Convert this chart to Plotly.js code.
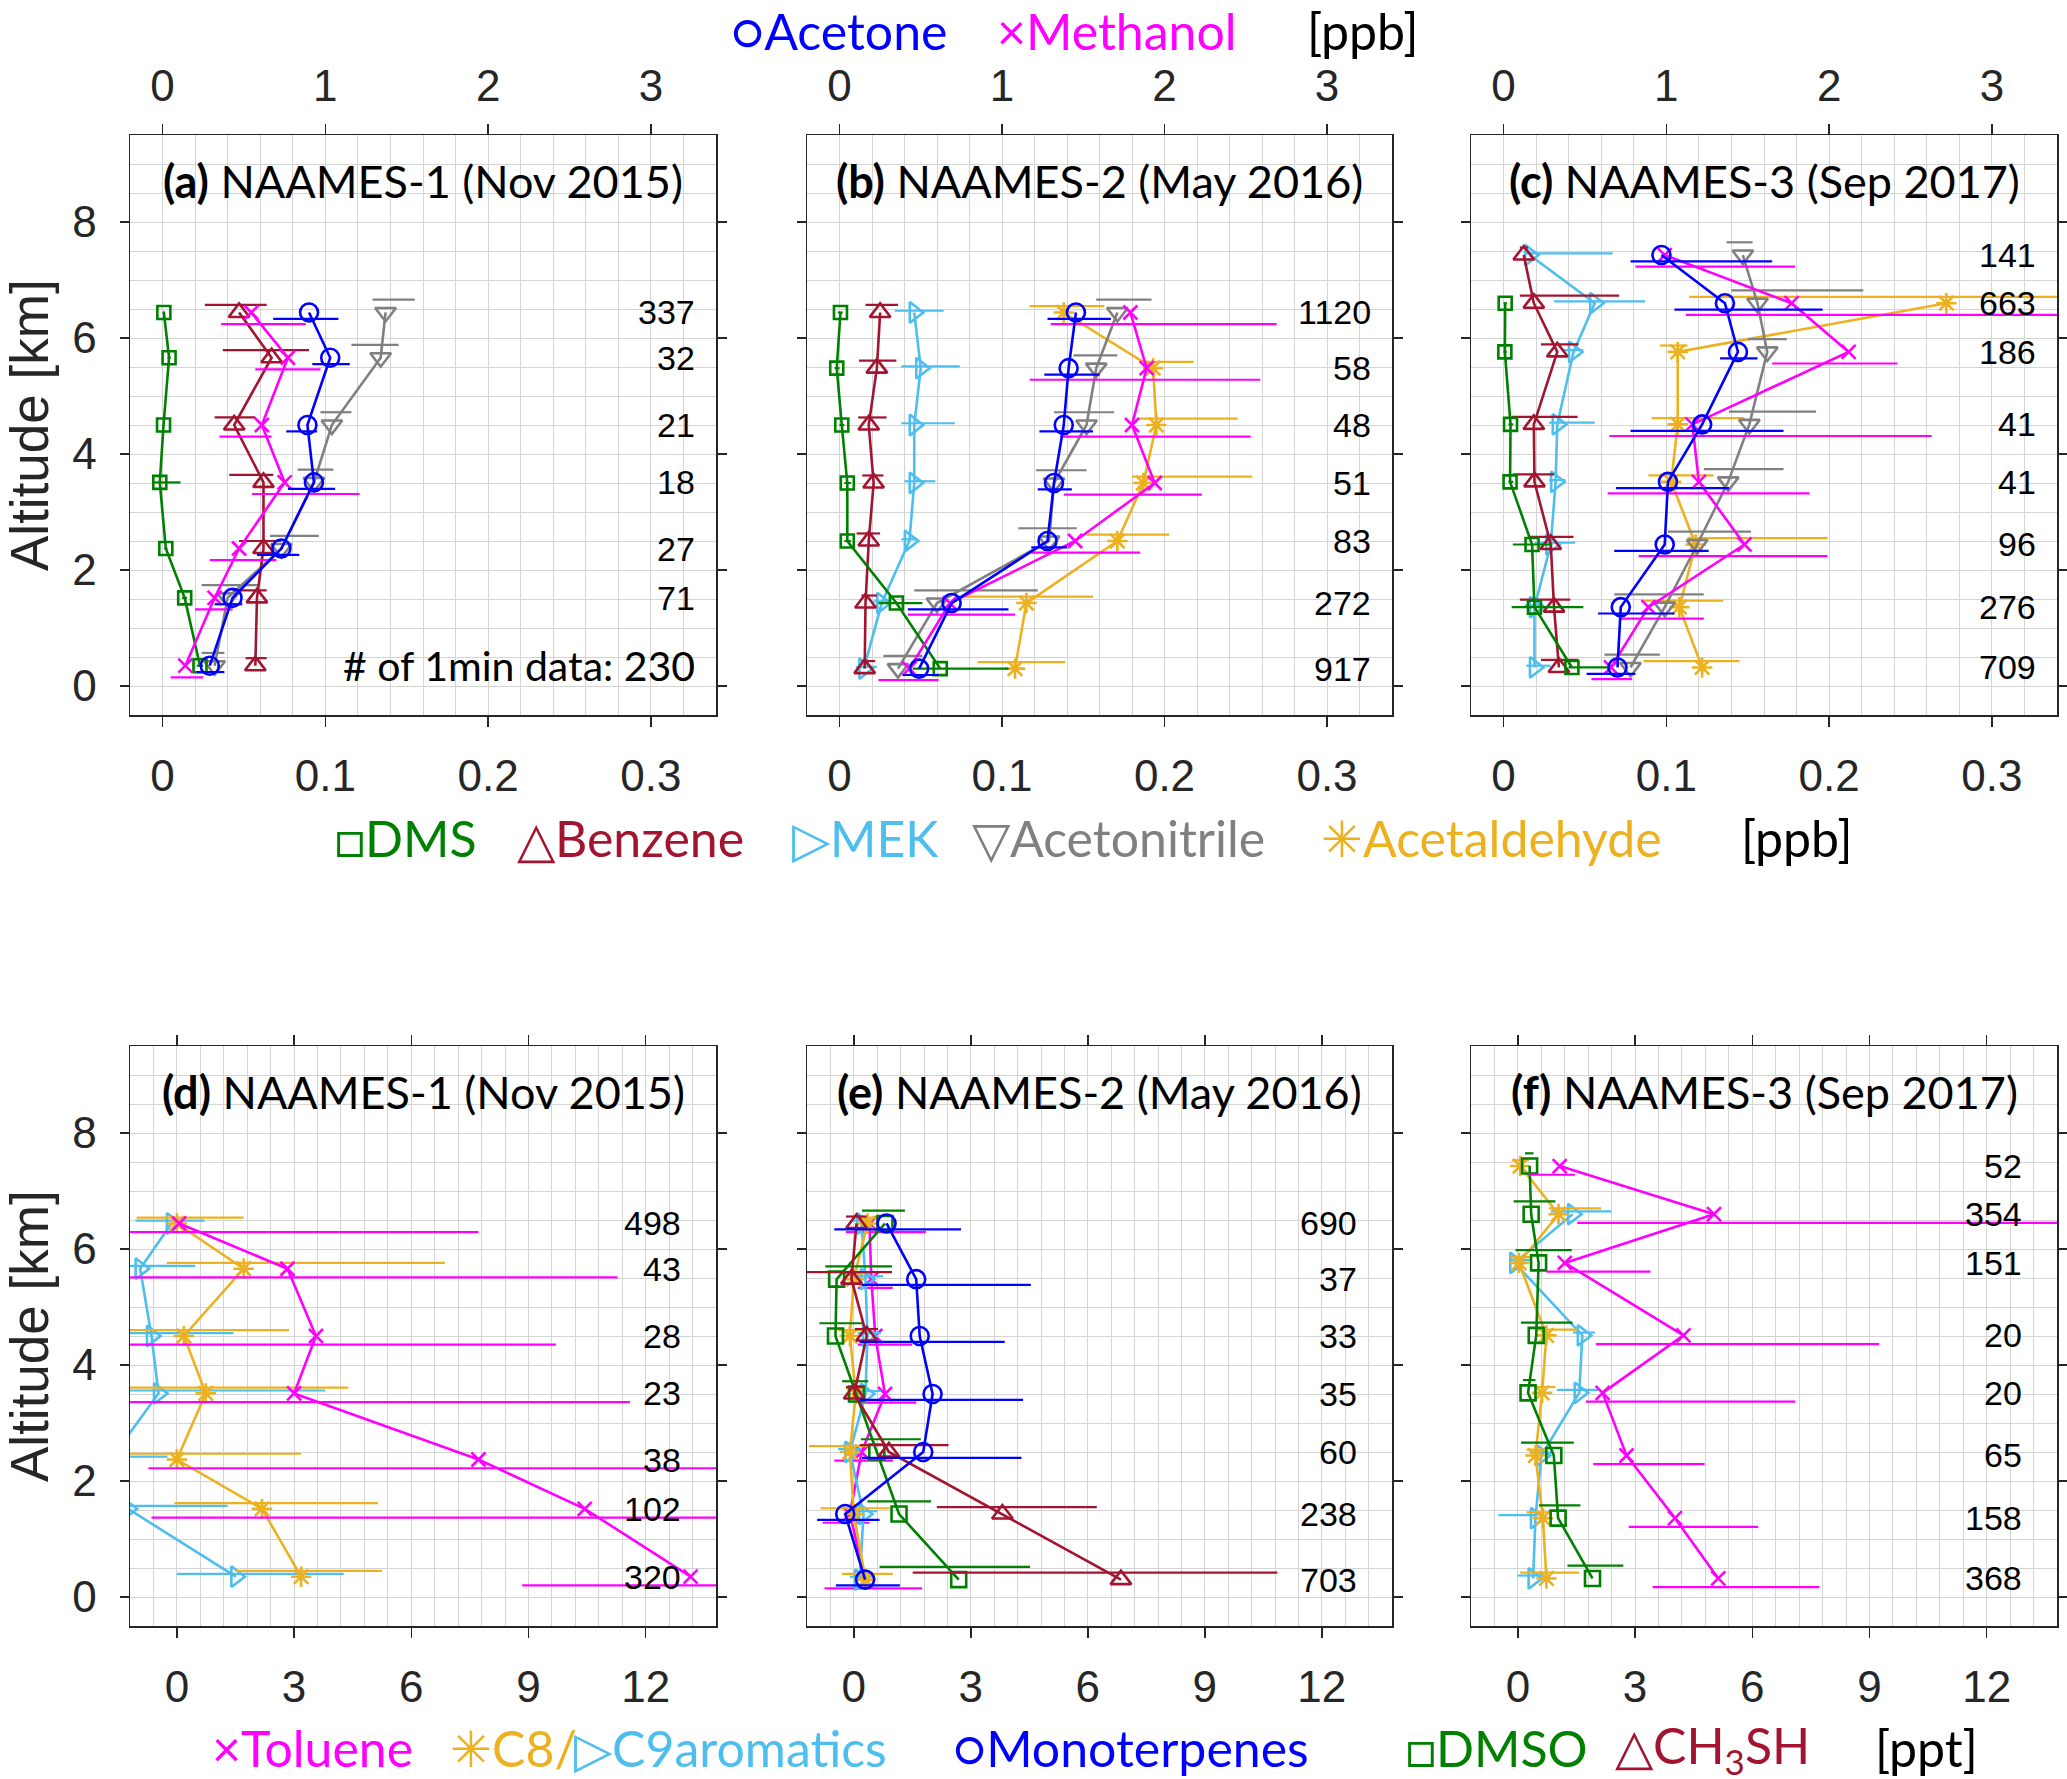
<!DOCTYPE html>
<html>
<head>
<meta charset="utf-8">
<script src="https://cdn.plot.ly/plotly-3.0.1.min.js"></script>
<style>
body{margin:0;background:#fff}
#plot{width:2067px;height:1779px}
</style>
</head>
<body>
<div id="plot"></div>
<script>
// altitude bins [km], bottom to top, for each campaign
const alt1 = [0.35, 1.52, 2.37, 3.51, 4.5, 5.66, 6.44]
const alt2 = [0.3, 1.43, 2.5, 3.5, 4.5, 5.48, 6.44]
const alt3 = [0.32, 1.36, 2.44, 3.52, 4.51, 5.76, 6.6, 7.43]

// number of 1 min data points per bin
const count1 = [230, 71, 27, 18, 21, 32, 337]
const count2 = [917, 272, 83, 51, 48, 58, 1120]
const count3 = [709, 276, 96, 41, 41, 186, 663, 141]
const count1ppt = [320, 102, 38, 23, 28, 43, 498]
const count2ppt = [703, 238, 60, 35, 33, 37, 690]
const count3ppt = [368, 158, 65, 20, 20, 151, 354, 52]

// ---- ppb species (median, low, high) ----
const acetone1 = [0.29, 0.43, 0.73, 0.93, 0.89, 1.03, 0.90]
const acetone1Lo = [0.21, 0.32, 0.58, 0.77, 0.76, 0.92, 0.68]
const acetone1Hi = [0.38, 0.49, 0.84, 1.06, 0.95, 1.15, 1.08]
const acetone2 = [0.49, 0.69, 1.28, 1.32, 1.38, 1.41, 1.455]
const acetone2Lo = [0.39, 0.42, 1.18, 1.22, 1.23, 1.26, 1.28]
const acetone2Hi = [0.61, 1.04, 1.40, 1.43, 1.56, 1.60, 1.67]
const acetone3 = [0.70, 0.72, 0.99, 1.01, 1.22, 1.44, 1.36, 0.97]
const acetone3Lo = [0.51, 0.58, 0.68, 0.69, 0.78, 1.33, 1.05, 0.78]
const acetone3Hi = [0.81, 1.05, 1.26, 1.385, 1.72, 1.56, 1.96, 1.65]

const methanol1 = [0.14, 0.32, 0.47, 0.75, 0.61, 0.77, 0.545]
const methanol1Lo = [0.05, 0.20, 0.29, 0.55, 0.35, 0.57, 0.36]
const methanol1Hi = [0.25, 0.43, 0.70, 1.21, 0.67, 0.97, 0.88]
const methanol2 = [0.43, 0.68, 1.45, 1.94, 1.80, 1.89, 1.79]
const methanol2Lo = [0.24, 0.42, 1.18, 1.38, 1.36, 1.17, 1.30]
const methanol2Hi = [0.61, 1.08, 1.85, 2.23, 2.53, 2.59, 2.69]
const methanol3 = [0.66, 0.89, 1.48, 1.20, 1.16, 2.12, 1.77, 0.99]
const methanol3Lo = [0.54, 0.71, 0.83, 0.64, 0.65, 1.65, 1.12, 0.81]
const methanol3Hi = [0.79, 1.23, 1.99, 1.88, 2.63, 2.42, 3.6, 1.79]

const dms1 = [0.023, 0.0136, 0.002, -0.0017, 0.0006, 0.004, 0.0008]
const dms1Lo = [0.021, 0.012, 0.001, -0.006, 0.0, 0.003, 0.0]
const dms1Hi = [0.025, 0.015, 0.003, 0.011, 0.001, 0.005, 0.0015]
const dms2 = [0.062, 0.035, 0.0048, 0.0048, 0.0014, -0.0017, 0.0006]
const dms2Lo = [0.045, 0.024, 0.003, 0.003, 0.0, -0.003, -0.001]
const dms2Hi = [0.104, 0.051, 0.007, 0.007, 0.003, 0.0, 0.002]
const dms3 = [0.042, 0.019, 0.0175, 0.004, 0.0043, 0.0008, 0.001, null]
const dms3Lo = [0.040, 0.005, 0.0057, 0.003, 0.003, 0.0, 0.0, null]
const dms3Hi = [0.064, 0.049, 0.030, 0.006, 0.006, 0.002, 0.002, null]

const benzene1 = [0.057, 0.058, 0.062, 0.062, 0.044, 0.067, 0.047]
const benzene1Lo = [0.051, 0.043, 0.047, 0.041, 0.032, 0.037, 0.026]
const benzene1Hi = [0.064, 0.064, 0.073, 0.068, 0.057, 0.090, 0.064]
const benzene2 = [0.0155, 0.016, 0.018, 0.021, 0.018, 0.023, 0.025]
const benzene2Lo = [0.0135, 0.0135, 0.0105, 0.014, 0.0115, 0.012, 0.016]
const benzene2Hi = [0.022, 0.023, 0.025, 0.027, 0.029, 0.035, 0.036]
const benzene3 = [0.034, 0.031, 0.029, 0.019, 0.0186, 0.033, 0.0186, 0.0124]
const benzene3Lo = [0.023, 0.010, 0.016, 0.0057, 0.005, 0.023, 0.010, 0.010]
const benzene3Hi = [0.046, 0.041, 0.043, 0.031, 0.0455, 0.046, 0.071, 0.015]

const mek2 = [0.015, 0.026, 0.043, 0.046, 0.046, 0.050, 0.046]
const mek2Lo = [0.010, 0.021, 0.038, 0.040, 0.038, 0.038, 0.034]
const mek2Hi = [0.023, 0.032, 0.048, 0.059, 0.071, 0.074, 0.064]
const mek3 = [0.019, 0.019, 0.029, 0.032, 0.033, 0.043, 0.056, 0.016]
const mek3Lo = [0.014, 0.013, 0.019, 0.028, 0.028, 0.037, 0.031, 0.013]
const mek3Hi = [0.029, 0.025, 0.044, 0.038, 0.056, 0.049, 0.087, 0.067]

const acn1 = [0.032, 0.040, 0.073, 0.093, 0.104, 0.134, 0.137]
const acn1Lo = [0.024, 0.024, 0.066, 0.083, 0.097, 0.116, 0.129]
const acn1Hi = [0.038, 0.059, 0.096, 0.105, 0.116, 0.145, 0.155]
const acn2 = [0.036, 0.060, 0.129, 0.132, 0.152, 0.158, 0.171]
const acn2Lo = [0.027, 0.046, 0.110, 0.121, 0.132, 0.144, 0.158]
const acn2Hi = [0.051, 0.122, 0.146, 0.152, 0.169, 0.171, 0.192]
const acn3 = [0.078, 0.099, 0.119, 0.138, 0.151, 0.162, 0.156, 0.147]
const acn3Lo = [0.062, 0.068, 0.101, 0.123, 0.1385, 0.150, 0.140, 0.137]
const acn3Hi = [0.096, 0.123, 0.152, 0.172, 0.192, 0.174, 0.221, 0.153]

const acetald2 = [0.108, 0.115, 0.171, 0.187, 0.195, 0.193, 0.138]
const acetald2Lo = [0.085, 0.073, 0.152, 0.180, 0.183, 0.185, 0.117]
const acetald2Hi = [0.139, 0.156, 0.203, 0.254, 0.245, 0.218, 0.163]
const acetald3 = [0.122, 0.108, 0.118, 0.103, 0.107, 0.107, 0.272, null]
const acetald3Lo = [0.086, 0.085, 0.113, 0.089, 0.091, 0.096, 0.114, null]
const acetald3Hi = [0.145, 0.135, 0.199, 0.129, 0.148, 0.113, 0.36, null]

// ---- ppt species ----
const toluene1 = [13.15, 10.44, 7.72, 3.0, 3.56, 2.83, 0.06]
const toluene1Lo = [8.84, -0.65, -0.73, -2.5, -2.5, -2.5, -2.5]
const toluene1Hi = [15, 15, 15, 11.6, 9.7, 11.28, 7.72]
const toluene2 = [0.3, -0.1, 0.2, 0.8, 0.55, 0.45, 0.4]
const toluene2Lo = [-0.75, -0.8, -0.5, 0.2, 0.1, 0.1, -0.2]
const toluene2Hi = [1.75, 0.4, 1.0, 1.6, 1.5, 1.0, 1.85]
const toluene3 = [5.13, 4.02, 2.78, 2.17, 4.24, 1.2, 5.02, 1.07]
const toluene3Lo = [3.45, 2.84, 1.93, 1.74, 2.0, 0.73, 1.52, 0.28]
const toluene3Hi = [7.72, 6.15, 4.78, 7.1, 9.25, 3.39, 16, 1.46]

const c8a1 = [3.18, 2.18, 0.0, 0.74, 0.18, 1.71, 0.0]
const c8a1Lo = [1.51, -0.06, -1.5, -1.5, -1.5, -0.26, -1.03]
const c8a1Hi = [5.25, 5.15, 3.18, 4.39, 2.87, 6.86, 1.71]
const c8a2 = [0.3, 0.0, -0.1, 0.05, -0.1, 0.0, 0.35]
const c8a2Lo = [-0.3, -0.85, -1.15, -0.2, -0.4, -0.3, 0.1]
const c8a2Hi = [1.0, 0.92, 0.39, 0.3, 0.4, 0.3, 0.6]
const c8a3 = [0.73, 0.64, 0.45, 0.62, 0.73, 0.03, 1.04, 0.06]
const c8a3Lo = [0.06, 0.22, 0.22, 0.45, 0.45, -0.19, 0.79, -0.15]
const c8a3Hi = [1.57, 0.84, 0.73, 0.96, 1.52, 0.34, 2.13, 0.28]

const c9a1 = [1.51, -1.25, -1.7, -0.47, -0.65, -0.94, -0.14]
const c9a1Lo = [0.0, -2, -2.5, -2, -2, -2, -1.06]
const c9a1Hi = [4.27, 1.3, -0.24, 3.8, 1.45, 0.47, 0.71]
const c9a2 = [0.15, 0.25, -0.1, 0.3, 0.35, 0.3, 0.2]
const c9a2Lo = [-0.1, 0.0, -0.4, 0.0, 0.1, 0.0, 0.0]
const c9a2Hi = [0.5, 0.6, 0.2, 0.7, 0.7, 0.75, 0.45]
const c9a3 = [0.39, 0.45, 0.6, 1.57, 1.65, -0.08, 1.4, null]
const c9a3Lo = [0.0, -0.5, 0.3, 1.0, 1.41, -0.22, 0.84, null]
const c9a3Hi = [0.73, 0.5, 0.9, 2.07, 1.97, 0.34, 2.39, null]

const monoterp2 = [0.29, -0.22, 1.78, 2.02, 1.69, 1.6, 0.84]
const monoterp2Lo = [-0.46, -0.94, 0.21, 0.15, 0.15, 0.21, -0.5]
const monoterp2Hi = [1.18, 0.66, 4.3, 4.34, 3.87, 4.54, 2.75]

const ch3sh2 = [6.85, 3.81, 0.9, 0.01, 0.33, -0.06, 0.07]
const ch3sh2Lo = [1.51, 2.13, 0.15, -0.2, 0.03, -1.3, -0.2]
const ch3sh2Hi = [10.86, 6.23, 2.43, 0.27, 0.62, 0.98, 0.33]

const dmso2 = [2.69, 1.16, 0.59, 0.07, -0.47, -0.44, 0.8]
const dmso2Lo = [0.66, 0.35, 0.18, -0.3, -0.88, -0.73, 0.21]
const dmso2Hi = [4.52, 1.98, 1.72, 0.37, 0.24, 0.98, 1.31]
const dmso3 = [1.91, 1.03, 0.92, 0.26, 0.47, 0.53, 0.34, 0.3]
const dmso3Lo = [1.27, 0.54, 0.08, 0.13, 0.08, -0.06, -0.11, 0.18]
const dmso3Hi = [2.7, 1.6, 1.43, 0.45, 1.40, 1.38, 0.96, 0.4]

const titles = ["(a)", "(b)", "(c)", "(d)", "(e)", "(f)"]
const campaigns = ["NAAMES-1 (Nov 2015)", "NAAMES-2 (May 2016)", "NAAMES-3 (Sep 2017)"]

// ---- styles ----
const BLUE = "#0000ff", MAG = "#ff00ff", GREEN = "#008000", RED = "#a2142f"
const LBLUE = "#4dbeee", GRAY = "#808080", ORANGE = "#edb120"
const INK = "#262626", GRID = "#d4d4d4"
const TEXTFONT = "Lato, 'Open Sans', sans-serif"
const NUMFONT = "'Liberation Sans', Arial, sans-serif"
const TICKSIZE = 44

const sty = {
    acetone: {color: BLUE, symbol: "circle-open", size: 18, off: -0.11, top: true},
    methanol: {color: MAG, symbol: "x-thin-open", size: 14, off: -0.2, top: true},
    dms: {color: GREEN, symbol: "square-open", size: 13, off: 0},
    benzene: {color: RED, symbol: "triangle-up-open", size: 18, off: 0.13},
    mek: {color: LBLUE, symbol: "triangle-right-open", size: 18, off: 0.03},
    acn: {color: GRAY, symbol: "triangle-down-open", size: 18, off: 0.22},
    acetald: {color: ORANGE, symbol: "asterisk-open", size: 17, off: 0.11},
    toluene: {color: MAG, symbol: "x-thin-open", size: 14, off: -0.15},
    c8: {color: ORANGE, symbol: "asterisk-open", size: 17, off: 0.1},
    c9: {color: LBLUE, symbol: "triangle-right-open", size: 18, off: 0.05},
    monoterp: {color: BLUE, symbol: "circle-open", size: 18, off: -0.1},
    dmso: {color: GREEN, symbol: "square-open", size: 15, off: 0.22},
    ch3sh: {color: RED, symbol: "triangle-up-open", size: 18, off: 0.12}
}

// panel contents: [style key, values, low, high], drawing order bottom to top
const panels = [
    {alt: alt1, counts: count1, series: [
        ["acn", acn1, acn1Lo, acn1Hi], ["benzene", benzene1, benzene1Lo, benzene1Hi],
        ["dms", dms1, dms1Lo, dms1Hi], ["methanol", methanol1, methanol1Lo, methanol1Hi],
        ["acetone", acetone1, acetone1Lo, acetone1Hi]]},
    {alt: alt2, counts: count2, series: [
        ["acetald", acetald2, acetald2Lo, acetald2Hi], ["acn", acn2, acn2Lo, acn2Hi],
        ["mek", mek2, mek2Lo, mek2Hi], ["benzene", benzene2, benzene2Lo, benzene2Hi],
        ["dms", dms2, dms2Lo, dms2Hi], ["methanol", methanol2, methanol2Lo, methanol2Hi],
        ["acetone", acetone2, acetone2Lo, acetone2Hi]]},
    {alt: alt3, counts: count3, series: [
        ["acetald", acetald3, acetald3Lo, acetald3Hi], ["acn", acn3, acn3Lo, acn3Hi],
        ["mek", mek3, mek3Lo, mek3Hi], ["benzene", benzene3, benzene3Lo, benzene3Hi],
        ["dms", dms3, dms3Lo, dms3Hi], ["methanol", methanol3, methanol3Lo, methanol3Hi],
        ["acetone", acetone3, acetone3Lo, acetone3Hi]]},
    {alt: alt1, counts: count1ppt, series: [
        ["c9", c9a1, c9a1Lo, c9a1Hi], ["c8", c8a1, c8a1Lo, c8a1Hi],
        ["toluene", toluene1, toluene1Lo, toluene1Hi]]},
    {alt: alt2, counts: count2ppt, series: [
        ["toluene", toluene2, toluene2Lo, toluene2Hi], ["c9", c9a2, c9a2Lo, c9a2Hi],
        ["c8", c8a2, c8a2Lo, c8a2Hi], ["dmso", dmso2, dmso2Lo, dmso2Hi],
        ["ch3sh", ch3sh2, ch3sh2Lo, ch3sh2Hi], ["monoterp", monoterp2, monoterp2Lo, monoterp2Hi]]},
    {alt: alt3, counts: count3ppt, series: [
        ["c9", c9a3, c9a3Lo, c9a3Hi], ["c8", c8a3, c8a3Lo, c8a3Hi],
        ["dmso", dmso3, dmso3Lo, dmso3Hi], ["toluene", toluene3, toluene3Lo, toluene3Hi]]}
]

// page geometry in pixels
const W = 2067, H = 1779
const colPx = [[130, 716], [807, 1392], [1471, 2057]]
const rowPx = [[135, 715], [1046, 1626]]

function xid(p){ return p == 0 ? "x" : "x" + (p + 1) }
function yid(p){ return p == 0 ? "y" : "y" + (p + 1) }
function xkey(p){ return p == 0 ? "xaxis" : "xaxis" + (p + 1) }
function ykey(p){ return p == 0 ? "yaxis" : "yaxis" + (p + 1) }

var data = []
var layout = {
    width: W, height: H,
    margin: {l: 0, r: 0, t: 0, b: 0},
    paper_bgcolor: "#fff", plot_bgcolor: "#fff",
    showlegend: false,
    annotations: []
}

for (let p = 0; p < 6; p++){
    let r = Math.floor(p / 3), c = p % 3
    let panel = panels[p]
    let xdom = [colPx[c][0] / W, colPx[c][1] / W]
    let ydom = [1 - rowPx[r][1] / H, 1 - rowPx[r][0] / H]

    let xa = {
        domain: xdom, anchor: yid(p),
        showline: true, linecolor: INK, linewidth: 1.5,
        ticks: "outside", ticklen: 10, tickwidth: 1.5, tickcolor: INK,
        tickfont: {family: NUMFONT, size: TICKSIZE, color: INK},
        ticklabelstandoff: 12,
        showgrid: true, gridcolor: GRID, gridwidth: 1,
        zeroline: false, tick0: 0
    }
    if (r == 0){
        xa.range = [-0.02, 0.34]
        xa.dtick = 0.1
        xa.minor = {dtick: 0.02, showgrid: true, gridcolor: GRID, gridwidth: 1, ticks: ""}
        xa.mirror = false
        // top axis for acetone / methanol
        layout["xaxis" + (7 + p)] = {
            overlaying: xid(p), anchor: yid(p), side: "top",
            range: [-0.2, 3.4], tick0: 0, dtick: 1,
            showline: true, linecolor: INK, linewidth: 1.5,
            ticks: "outside", ticklen: 10, tickwidth: 1.5, tickcolor: INK,
            tickfont: {family: NUMFONT, size: TICKSIZE, color: INK},
            ticklabelstandoff: 5,
            showgrid: false, zeroline: false
        }
    } else {
        xa.range = [-1.2, 13.8]
        xa.dtick = 3
        xa.minor = {dtick: 0.6, showgrid: true, gridcolor: GRID, gridwidth: 1, ticks: ""}
        xa.mirror = "ticks"
    }
    layout[xkey(p)] = xa

    layout[ykey(p)] = {
        domain: ydom, anchor: xid(p),
        range: [-0.5, 9.5], tick0: 0, dtick: 2,
        minor: {dtick: 0.5, showgrid: true, gridcolor: GRID, gridwidth: 1, ticks: ""},
        showgrid: true, gridcolor: GRID, gridwidth: 1, zeroline: false,
        showline: true, linecolor: INK, linewidth: 1.5, mirror: "ticks",
        ticks: "outside", ticklen: 9, tickwidth: 1.5, tickcolor: INK,
        showticklabels: c == 0,
        tickfont: {family: NUMFONT, size: TICKSIZE, color: INK},
        ticklabelstandoff: 14
    }

    for (let s of panel.series){
        let st = sty[s[0]]
        let vals = s[1], lo = s[2], hi = s[3]
        let xax = st.top ? "x" + (7 + p) : xid(p)
        data.push({
            x: vals,
            y: panel.alt.map(a => a + st.off),
            xaxis: xax, yaxis: yid(p),
            mode: "markers",
            marker: {color: "rgba(0,0,0,0)", size: 1},
            error_x: {
                type: "data", symmetric: false,
                array: vals.map((v, i) => v == null ? null : hi[i] - v),
                arrayminus: vals.map((v, i) => v == null ? null : v - lo[i]),
                color: st.color, thickness: 2.2, width: 0
            },
            hoverinfo: "skip"
        })
        data.push({
            x: vals, y: panel.alt,
            xaxis: xax, yaxis: yid(p),
            mode: "lines+markers",
            line: {color: st.color, width: 2.6},
            marker: {symbol: st.symbol, size: st.size, color: st.color,
                     line: {color: st.color, width: 2.6}},
            hoverinfo: "skip"
        })
    }

    // panel title
    layout.annotations.push({
        xref: xid(p) + " domain", yref: yid(p), x: 0.5, y: 8.7,
        text: "<b>" + titles[p] + "</b> " + campaigns[c],
        showarrow: false, xanchor: "center", yanchor: "middle",
        font: {family: TEXTFONT, size: 45, color: "#000"}
    })

    // number of data points per bin
    panel.counts.forEach((n, i) => {
        let txt = String(n)
        let fam = NUMFONT, size = 34
        if (p == 0 && i == 0){
            txt = "# of 1min data: " + n
            fam = TEXTFONT
            size = 41
        }
        layout.annotations.push({
            xref: xid(p) + " domain", yref: yid(p),
            x: r == 0 ? 0.967 : 0.944, y: panel.alt[i],
            text: txt, showarrow: false, xanchor: "right", yanchor: "middle",
            font: {family: fam, size: size, color: "#000"}
        })
    })
}

// y axis titles
for (let r = 0; r < 2; r++){
    layout.annotations.push({
        xref: "paper", yref: "paper", x: 29 / W, y: 1 - (rowPx[r][0] + rowPx[r][1]) / 2 / H,
        text: "Altitude [km]", textangle: -90, showarrow: false,
        xanchor: "center", yanchor: "middle",
        font: {family: NUMFONT, size: 53, color: INK}
    })
}

// colored text legends: [text, color, left px, center y px (top row: anchored at the page top)]
const legendItems = [
    ["\u25CBAcetone", BLUE, 730, 0], ["\u00D7Methanol", MAG, 996, 0], ["[ppb]", "#000", 1306, 0],
    ["\u25A1DMS", GREEN, 334, 838], ["\u25B3Benzene", RED, 516, 838], ["\u25B7MEK", LBLUE, 791, 838],
    ["\u25BDAcetonitrile", GRAY, 971, 838], ["\u2733Acetaldehyde", ORANGE, 1320, 838], ["[ppb]", "#000", 1740, 838],
    ["\u00D7Toluene", MAG, 211, 1748], ["\u2733C8/", ORANGE, 449, 1748], ["\u25B7C9aromatics", LBLUE, 573, 1748],
    ["\u25CBMonoterpenes", BLUE, 952, 1748], ["\u25A1DMSO", GREEN, 1405, 1748],
    ["\u25B3CH<sub>3</sub>SH", RED, 1614, 1748], ["[ppt]", "#000", 1874, 1748]
]
for (let it of legendItems){
    layout.annotations.push({
        xref: "paper", yref: "paper", x: it[2] / W, y: 1 - it[3] / H,
        text: it[0], showarrow: false, xanchor: "left",
        yanchor: it[3] == 0 ? "top" : "middle", borderpad: 0,
        font: {family: TEXTFONT, size: 50, color: it[1]}
    })
}

Plotly.newPlot("plot", data, layout, {staticPlot: true})
</script>
</body>
</html>
